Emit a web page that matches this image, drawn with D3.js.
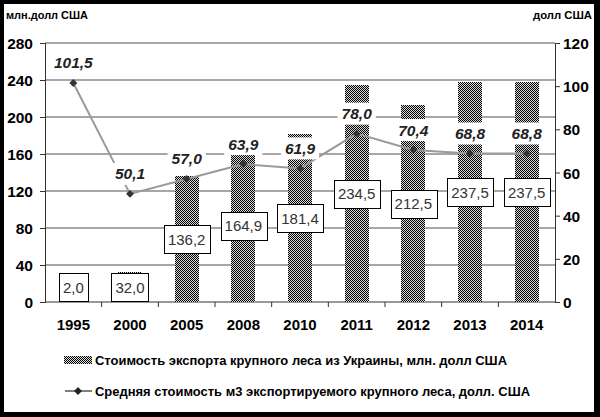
<!DOCTYPE html>
<html>
<head>
<meta charset="utf-8">
<script src="https://cdn.jsdelivr.net/npm/d3@7"></script>
<style>
  html, body { margin: 0; padding: 0; background: #000; }
  svg { display: block; font-family: Arial, "Liberation Sans", sans-serif; }
</style>
</head>
<body>
<svg id="chart" width="600" height="417"></svg>
<script>
// ---- данные ----
const years = ["1995", "2000", "2005", "2008", "2010", "2011", "2012", "2013", "2014"];
const exportValue = [2.0, 32.0, 136.2, 164.9, 181.4, 234.5, 212.5, 237.5, 237.5];   // млн. долл США
const avgPrice = [101.5, 50.1, 57.0, 63.9, 61.9, 78.0, 70.4, 68.8, 68.8];         // долл США за м3
const leftTicks = [0, 40, 80, 120, 160, 200, 240, 280];
const rightTicks = [0, 20, 40, 60, 80, 100, 120];
const legendItems = [
  "Стоимость экспорта крупного леса из Украины, млн. долл США",
  "Средняя стоимость м3 экспортируемого крупного леса, долл. США"
];
const fmt = (v) => v.toFixed(1).replace(".", ",");

const svg = d3.select("#chart");

// рамка
svg.append("rect").attr("x", 0).attr("y", 0).attr("width", 600).attr("height", 417).attr("fill", "#000");
svg.append("rect").attr("x", 4).attr("y", 4).attr("width", 590).attr("height", 408).attr("fill", "#fff");

// штриховка столбцов (шахматка 1px)
const defs = svg.append("defs");
const pat = defs.append("pattern").attr("id", "chk").attr("patternUnits", "userSpaceOnUse")
  .attr("width", 2).attr("height", 2);
pat.append("rect").attr("width", 2).attr("height", 2).attr("fill", "#d8d8d8");
pat.append("rect").attr("x", 0).attr("y", 0).attr("width", 1).attr("height", 1).attr("fill", "#000");
pat.append("rect").attr("x", 1).attr("y", 1).attr("width", 1).attr("height", 1).attr("fill", "#000");

const X0 = 45, X1 = 555, Y0 = 302, Y1 = 43;
const x = d3.scaleBand().domain(years).range([X0, X1]).paddingInner(0).paddingOuter(0);
const yL = d3.scaleLinear().domain([0, 280]).range([Y0, Y1]);
const yR = d3.scaleLinear().domain([0, 120]).range([Y0, Y1]);
const cx = (d) => x(d) + x.bandwidth() / 2;

// сетка
svg.append("g").selectAll("line").data(leftTicks.slice(1)).join("line")
  .attr("x1", X0).attr("x2", X1).attr("y1", (d) => yL(d)).attr("y2", (d) => yL(d))
  .attr("stroke", "#8a8a8a").attr("stroke-width", 1.5);

// левая ось
const axL = svg.append("g").attr("transform", `translate(${X0},0)`)
  .call(d3.axisLeft(yL).tickValues(leftTicks).tickSize(5).tickPadding(7).tickFormat(d3.format("d")));
axL.select(".domain").attr("stroke", "#333");
axL.selectAll(".tick line").attr("stroke", "#333");
axL.selectAll("text").attr("fill", "#000").style("font-size", "15.5px").style("font-weight", "bold")
  .attr("dy", "0.36em");

// правая ось
const axR = svg.append("g").attr("transform", `translate(${X1},0)`)
  .call(d3.axisRight(yR).tickValues(rightTicks).tickSize(5).tickPadding(3).tickFormat(d3.format("d")));
axR.select(".domain").attr("stroke", "#333");
axR.selectAll(".tick line").attr("stroke", "#333");
axR.selectAll("text").attr("fill", "#000").style("font-size", "15.5px").style("font-weight", "bold")
  .attr("dy", "0.36em");

// нижняя ось
svg.append("line").attr("x1", X0).attr("x2", X1).attr("y1", Y0).attr("y2", Y0).attr("stroke", "#333");
svg.append("g").selectAll("line").data(years.slice(1)).join("line")
  .attr("x1", (d) => x(d)).attr("x2", (d) => x(d)).attr("y1", Y0).attr("y2", Y0 + 5).attr("stroke", "#333");
svg.append("g").selectAll("text").data(years).join("text")
  .attr("x", cx).attr("y", 330).attr("text-anchor", "middle")
  .style("font-size", "15px").style("font-weight", "bold").text((d) => d);

// столбцы
const barW = 24;
svg.append("g").selectAll("rect").data(exportValue).join("rect")
  .attr("x", (d, i) => Math.round(cx(years[i]) - barW / 2)).attr("width", barW)
  .attr("y", (d) => yL(d)).attr("height", (d) => Y0 - yL(d))
  .attr("fill", "url(#chk)").attr("shape-rendering", "crispEdges");

// линия
const pts = avgPrice.map((v, i) => [cx(years[i]), yR(v)]);
svg.append("path").attr("d", d3.line()(pts)).attr("fill", "none")
  .attr("stroke", "#9a9a9a").attr("stroke-width", 2);
svg.append("g").selectAll("path").data(pts).join("path")
  .attr("transform", (d) => `translate(${d[0]},${d[1]})`)
  .attr("d", d3.symbol(d3.symbolDiamond2, 40)()).attr("fill", "#333");

// подписи столбцов (рамки)
const bl = svg.append("g").selectAll("g").data(exportValue).join("g");
bl.each(function (d, i) {
  const g = d3.select(this);
  const t = g.append("text").attr("text-anchor", "middle").attr("fill", "#333")
    .style("font-size", "15px").text(fmt(d));
  const w = t.node().getComputedTextLength() + 8, h = 28;
  let c = (Y0 + yL(d)) / 2;
  c = Math.min(c, Y0 - 1 - h / 2);
  const xc = cx(years[i]);
  g.insert("rect", "text").attr("x", Math.round(xc - w / 2) + 0.5).attr("y", Math.round(c - h / 2) + 0.5)
    .attr("width", Math.round(w)).attr("height", h).attr("fill", "#fff").attr("stroke", "#000");
  t.attr("x", xc).attr("y", c + 5.5);
});

// подписи линии
const ll = svg.append("g").selectAll("g").data(avgPrice).join("g");
ll.each(function (d, i) {
  const g = d3.select(this);
  const xc = cx(years[i]), yc = yR(d) - 20;
  const t = g.append("text").attr("text-anchor", "middle").attr("fill", "#222")
    .style("font-size", "15.5px").style("font-weight", "bold").style("font-style", "italic")
    .attr("x", xc).attr("y", yc + 5.5).text(fmt(d));
  const w = t.node().getComputedTextLength() + 8;
  g.insert("rect", "text").attr("x", xc - w / 2).attr("y", yc - 11).attr("width", w).attr("height", 22)
    .attr("fill", "#fff");
});

// единицы измерения
svg.append("text").attr("x", 6).attr("y", 19).attr("textLength", 82).attr("lengthAdjust", "spacingAndGlyphs")
  .style("font-size", "10.5px").style("font-weight", "bold").text("млн.долл США");
svg.append("text").attr("x", 533).attr("y", 19).attr("textLength", 59).attr("lengthAdjust", "spacingAndGlyphs")
  .style("font-size", "10.5px").style("font-weight", "bold").text("долл США");

// легенда
svg.append("rect").attr("x", 64).attr("y", 356).attr("width", 28).attr("height", 8)
  .attr("fill", "url(#chk)").attr("shape-rendering", "crispEdges");
svg.append("line").attr("x1", 65).attr("x2", 92).attr("y1", 391).attr("y2", 391)
  .attr("stroke", "#555").attr("stroke-width", 1.5);
svg.append("path").attr("transform", "translate(78,391)")
  .attr("d", d3.symbol(d3.symbolDiamond2, 40)()).attr("fill", "#222");
svg.append("g").selectAll("text").data(legendItems).join("text")
  .attr("x", 95).attr("y", (d, i) => (i === 0 ? 365 : 396))
  .attr("textLength", (d, i) => (i === 0 ? 412 : 435)).attr("lengthAdjust", "spacingAndGlyphs")
  .style("font-size", "13.5px").style("font-weight", "bold").text((d) => d);
</script>
</body>
</html>
